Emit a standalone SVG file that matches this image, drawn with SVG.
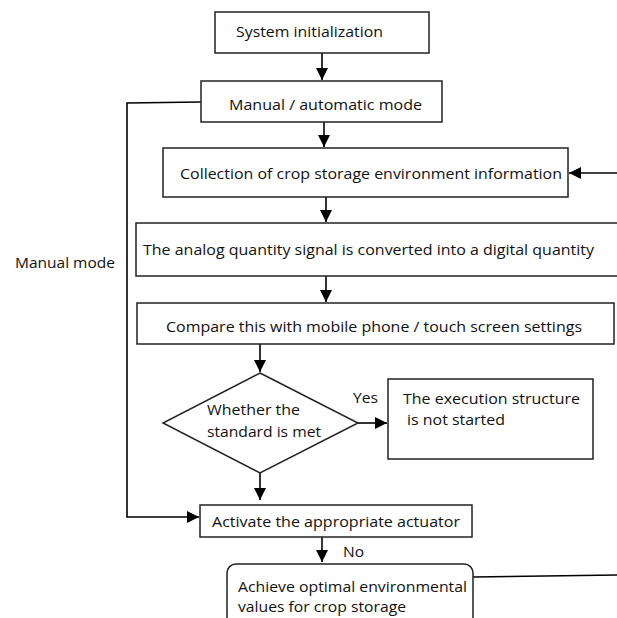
<svg xmlns="http://www.w3.org/2000/svg" width="617" height="618" viewBox="0 0 617 618">
<style>
.box{fill:#fff;stroke:#222;stroke-width:1.5}
.ln{fill:none;stroke:#000;stroke-width:1.6}
text{font-family:"Open Sans","Liberation Sans",Arial,sans-serif;font-size:15px;fill:#111}
</style>
<defs>
<marker id="ahb" viewBox="0 0 10 10" refX="10" refY="5" markerWidth="12" markerHeight="12" markerUnits="userSpaceOnUse" orient="auto">
<path d="M0,0 L10,5 L0,10 z" fill="#000"/>
</marker>
</defs>
<rect width="617" height="618" fill="#fff"/>
<g id="connectors">
<line class="ln" x1="322" y1="53" x2="322" y2="80" marker-end="url(#ahb)"/>
<line class="ln" x1="324" y1="122" x2="324" y2="147" marker-end="url(#ahb)"/>
<line class="ln" x1="617" y1="173" x2="569" y2="173" marker-end="url(#ahb)"/>
<line class="ln" x1="326" y1="197" x2="326" y2="222" marker-end="url(#ahb)"/>
<line class="ln" x1="326" y1="276" x2="326" y2="302" marker-end="url(#ahb)"/>
<line class="ln" x1="260" y1="344" x2="260" y2="372" marker-end="url(#ahb)"/>
<line class="ln" x1="358" y1="423" x2="387" y2="423" marker-end="url(#ahb)"/>
<line class="ln" x1="260" y1="473" x2="260" y2="500" marker-end="url(#ahb)"/>
<polyline class="ln" points="201,102 127,103 127,517 199,517" marker-end="url(#ahb)"/>
<line class="ln" x1="322" y1="537" x2="322" y2="562" marker-end="url(#ahb)"/>
<line class="ln" x1="473" y1="577" x2="617" y2="575"/>
<text x="353" y="403" textLength="25" lengthAdjust="spacingAndGlyphs">Yes</text>
<text x="343" y="557" textLength="21" lengthAdjust="spacingAndGlyphs">No</text>
<text x="15" y="268" textLength="100" lengthAdjust="spacingAndGlyphs">Manual mode</text>
</g>
<g id="n1">
<rect class="box" x="215" y="12" width="214" height="41"/>
<text x="236" y="37" textLength="147" lengthAdjust="spacingAndGlyphs">System initialization</text>
</g>
<g id="n2">
<rect class="box" x="201" y="81" width="241" height="41"/>
<text x="229" y="110" textLength="193" lengthAdjust="spacingAndGlyphs">Manual / automatic mode</text>
</g>
<g id="n3">
<rect class="box" x="163" y="148" width="405" height="49"/>
<text x="180" y="179" textLength="382" lengthAdjust="spacingAndGlyphs">Collection of crop storage environment information</text>
</g>
<g id="n4">
<rect class="box" x="136" y="223" width="490" height="53"/>
<text x="143" y="255" textLength="451" lengthAdjust="spacingAndGlyphs">The analog quantity signal is converted into a digital quantity</text>
</g>
<g id="n5">
<rect class="box" x="137" y="303" width="477" height="41"/>
<text x="166" y="332" textLength="416" lengthAdjust="spacingAndGlyphs">Compare this with mobile phone / touch screen settings</text>
</g>
<g id="n6">
<polygon class="box" points="260,373 358,423 260,473 163,423"/>
<text x="207" y="415" textLength="93" lengthAdjust="spacingAndGlyphs">Whether the</text>
<text x="207" y="437" textLength="114" lengthAdjust="spacingAndGlyphs">standard is met</text>
</g>
<g id="n7">
<rect class="box" x="388" y="379" width="205" height="80"/>
<text x="403" y="404" textLength="177" lengthAdjust="spacingAndGlyphs">The execution structure</text>
<text x="407" y="425" textLength="98" lengthAdjust="spacingAndGlyphs">is not started</text>
</g>
<g id="n8">
<rect class="box" x="200" y="505" width="272" height="32"/>
<text x="212" y="527" textLength="248" lengthAdjust="spacingAndGlyphs">Activate the appropriate actuator</text>
</g>
<g id="n9">
<rect class="box" x="227" y="564" width="246" height="70" rx="9" ry="9"/>
<text x="238" y="592" textLength="229" lengthAdjust="spacingAndGlyphs">Achieve optimal environmental</text>
<text x="238" y="612" textLength="168" lengthAdjust="spacingAndGlyphs">values for crop storage</text>
</g>
</svg>
